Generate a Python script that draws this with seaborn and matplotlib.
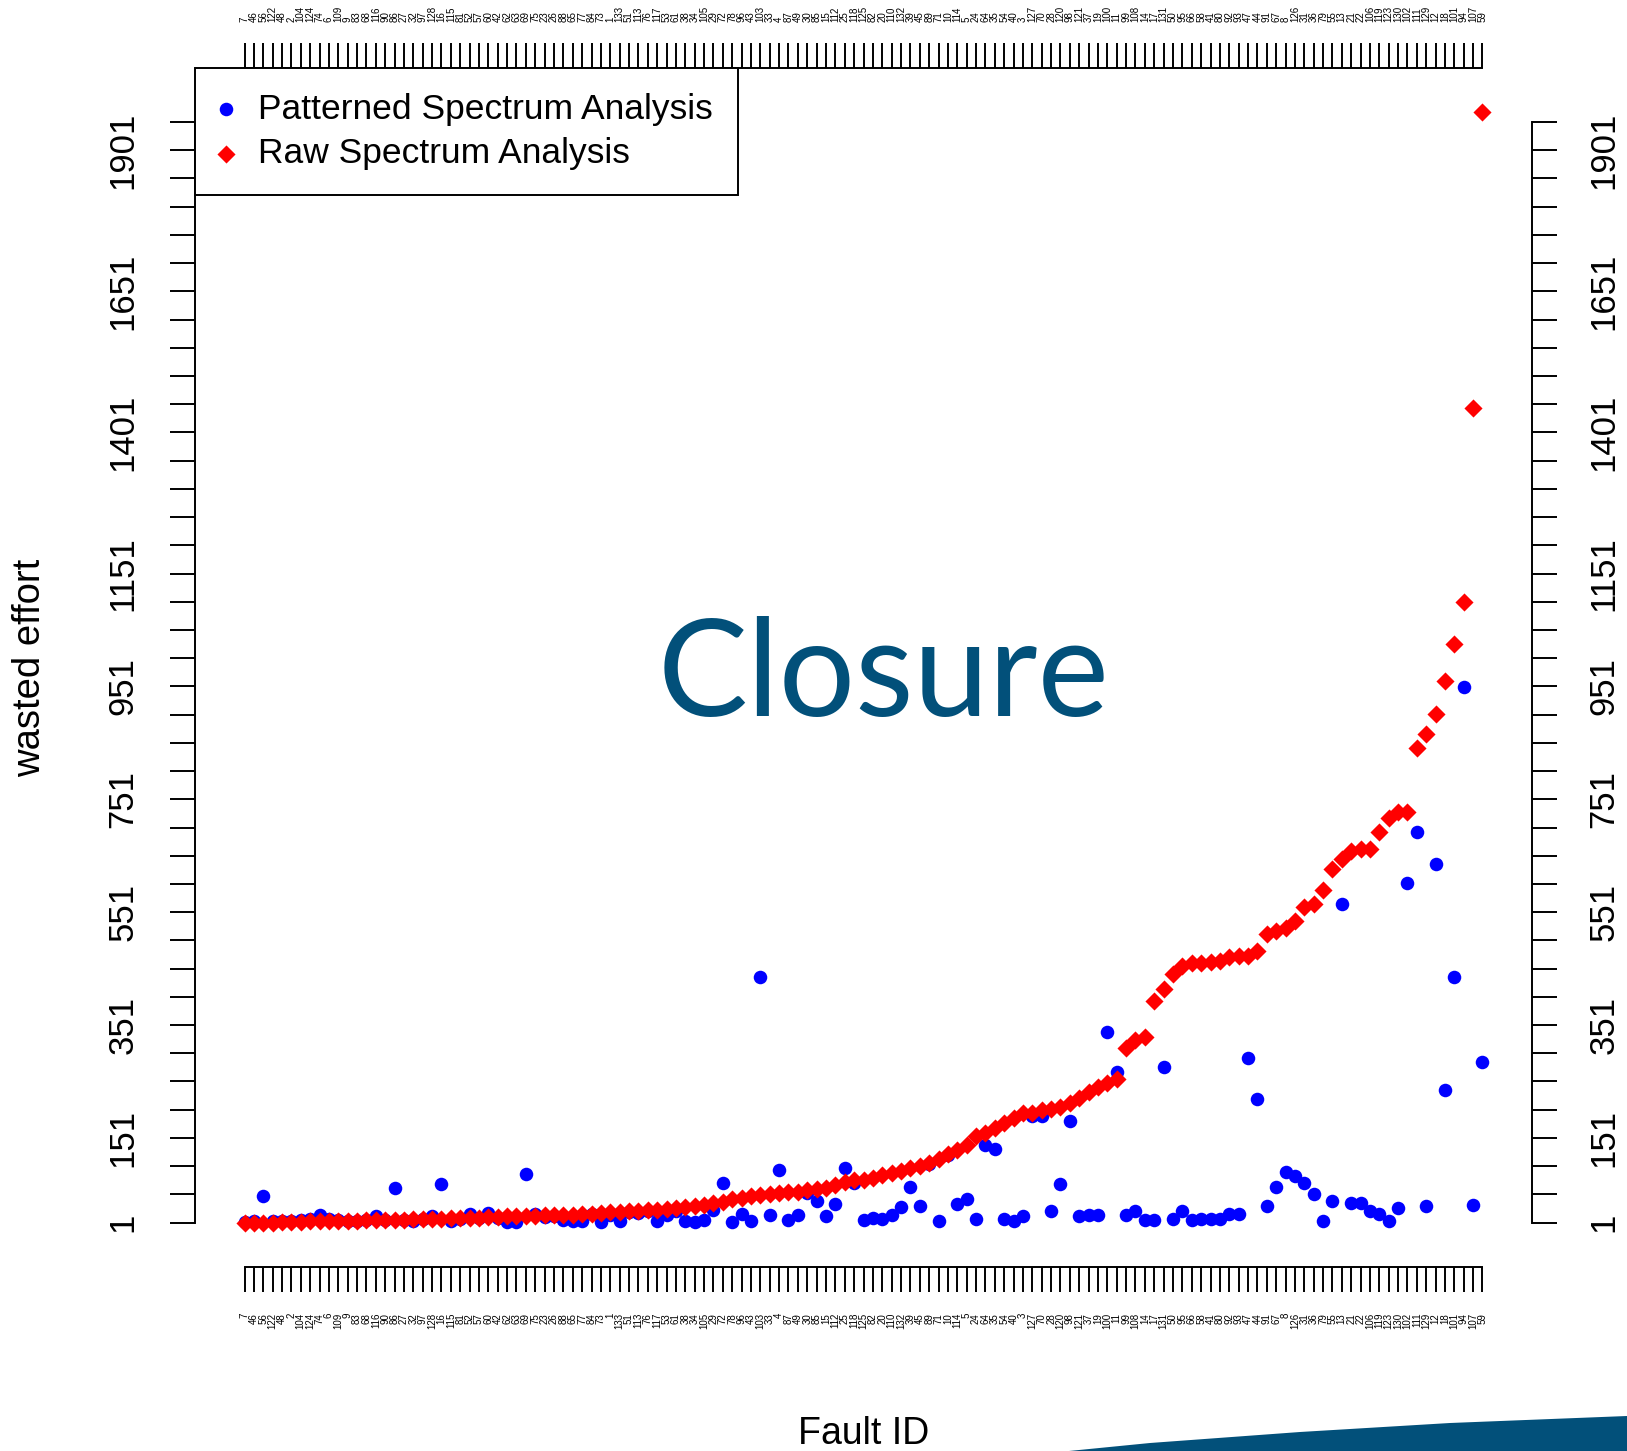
"""
Wasted effort per fault, patterned vs raw spectrum analysis (sorted by raw effort).
"""

import matplotlib
matplotlib.use("Agg")
import matplotlib.pyplot as plt
from matplotlib.patches import Polygon
import numpy as np
import pandas as pd
import seaborn as sns

# Fault IDs in plotted order (sorted by raw spectrum effort)
fault_ids = [7, 46, 56, 122, 48, 2, 104, 124, 74, 6,
             109, 9, 83, 68, 116, 90, 86, 27, 32, 97,
             128, 16, 115, 81, 52, 57, 60, 42, 62, 63,
             69, 75, 23, 26, 88, 65, 77, 84, 73, 1,
             133, 51, 113, 76, 117, 53, 61, 38, 34, 105,
             29, 72, 78, 96, 43, 103, 33, 4, 87, 49,
             30, 85, 15, 112, 25, 118, 125, 82, 20, 110,
             132, 39, 45, 89, 71, 10, 114, 5, 24, 64,
             35, 54, 40, 3, 127, 70, 28, 120, 98, 121,
             37, 19, 100, 11, 99, 108, 14, 17, 131, 50,
             95, 66, 58, 41, 80, 92, 93, 47, 44, 91,
             67, 8, 126, 31, 36, 79, 55, 13, 21, 22,
             106, 119, 123, 130, 102, 111, 129, 12, 18, 101,
             94, 107, 59]

raw_effort = [1, 1, 1, 1, 2, 2, 2, 3, 3, 3,
              4, 4, 4, 5, 5, 5, 6, 6, 7, 7,
              8, 8, 9, 9, 10, 10, 11, 11, 12, 12,
              13, 13, 14, 14, 15, 15, 16, 17, 18, 19,
              20, 21, 22, 23, 24, 25, 27, 29, 31, 33,
              35, 38, 42, 45, 48, 50, 52, 53, 55, 56,
              58, 60, 62, 67, 73, 76, 76, 80, 86, 89,
              93, 97, 102, 106, 113, 122, 130, 139, 154, 159,
              168, 178, 187, 196, 196, 200, 203, 205, 213, 222,
              233, 242, 249, 255, 310, 325, 330, 393, 415, 442,
              455, 461, 461, 463, 465, 472, 474, 474, 483, 512,
              518, 523, 536, 560, 566, 591, 628, 645, 660, 663,
              663, 693, 718, 729, 729, 842, 866, 902, 961, 1027,
              1101, 1445, 1968]

patterned_effort = [2, 3, 49, 3, 4, 3, 5, 7, 15, 8,
                    6, 4, 3, 5, 13, 6, 63, 5, 4, 7,
                    12, 69, 4, 8, 16, 10, 18, 9, 2, 2,
                    87, 16, 11, 12, 6, 3, 3, 16, 2, 14,
                    3, 20, 18, 22, 4, 15, 22, 3, 2, 6,
                    24, 71, 2, 16, 3, 437, 14, 95, 5, 14,
                    53, 40, 12, 34, 98, 71, 5, 10, 8, 14,
                    29, 64, 30, 104, 3, 121, 34, 43, 8, 139,
                    132, 8, 3, 12, 189, 189, 21, 69, 181, 12,
                    14, 14, 338, 268, 14, 21, 5, 5, 277, 8,
                    21, 5, 7, 7, 8, 16, 16, 293, 220, 30,
                    64, 91, 84, 72, 51, 3, 40, 566, 36, 36,
                    22, 17, 3, 26, 603, 693, 31, 637, 236, 437,
                    950, 33, 286]

y_ticks = list(range(1, 1952, 50))
y_labels_shown = [1, 151, 351, 551, 751, 951, 1151, 1401, 1651, 1901]

sns.set_theme(style="white")
plt.rcParams['font.family'] = ['Liberation Sans', 'DejaVu Sans']
plt.rcParams['text.color'] = 'black'
plt.rcParams['axes.labelcolor'] = 'black'
plt.rcParams['xtick.color'] = 'black'
plt.rcParams['ytick.color'] = 'black'

W, H = 1627, 1451
fig = plt.figure(figsize=(W / 100, H / 100), dpi=100)
ax = fig.add_axes([195 / W, 1 - 1267 / H, (1532 - 195) / W, (1267 - 68) / H])

df = pd.DataFrame({
    "pos": np.arange(1, len(fault_ids) + 1),
    "fault": fault_ids,
    "patterned": patterned_effort,
    "raw": raw_effort,
})

sns.scatterplot(data=df, x="pos", y="patterned", color="#0000ff", marker="o",
                s=95, linewidth=0, ax=ax, label="Patterned Spectrum Analysis", zorder=3)
sns.scatterplot(data=df, x="pos", y="raw", color="#ff0000", marker="D",
                s=85, linewidth=0, ax=ax, label="Raw Spectrum Analysis", zorder=4)

# R-style 4% padding around the data
n = len(fault_ids)
ax.set_xlim(1 - 0.04 * (n - 1), n + 0.04 * (n - 1))
lo = min(min(raw_effort), min(patterned_effort))
hi = max(max(raw_effort), max(patterned_effort))
ax.set_ylim(lo - 0.04 * (hi - lo), hi + 0.04 * (hi - lo))

ax.set_xticks(df["pos"])
ax.set_xticklabels([str(f) for f in fault_ids])
ax.set_yticks(y_ticks)
ax.set_yticklabels([str(v) if v in y_labels_shown else "" for v in y_ticks])

ax.tick_params(axis="x", bottom=True, top=True, labelbottom=True, labeltop=True,
               direction="out", length=18, width=1.4, color="black",
               labelsize=7, labelrotation=90, pad=15)
ax.tick_params(axis="y", left=True, right=True, labelleft=True, labelright=True,
               direction="out", length=18, width=1.4, color="black",
               labelsize=25, labelrotation=90, pad=22)
for t in ax.xaxis.get_major_ticks():
    t.label1.set_va("top")
    t.label2.set_va("bottom")
for t in ax.yaxis.get_major_ticks():
    t.label1.set_va("center")
    t.label2.set_va("center")

for side in ["left", "right"]:
    ax.spines[side].set_bounds(y_ticks[0], y_ticks[-1])
for side in ["top", "bottom"]:
    ax.spines[side].set_bounds(1, n)
for sp in ax.spines.values():
    sp.set_color("black")
    sp.set_linewidth(1.4)

ax.set_xlabel("Fault ID", fontsize=27)
ax.set_ylabel("wasted effort", fontsize=27.5)
ax.xaxis.set_label_coords(0.5, -0.124)
ax.yaxis.set_label_coords(-0.110, 0.5)

leg = ax.legend(loc="upper left", bbox_to_anchor=(0, 1), borderaxespad=0,
                fontsize=25.5, frameon=True, fancybox=False, framealpha=1,
                edgecolor="black", borderpad=0.7, handlelength=0.35,
                handletextpad=0.73, labelspacing=0.32)
leg.get_frame().set_linewidth(1.4)

# slide overlay: title word and the corner swoosh
fig.text(884 / W, 1 - 716 / H, "Closure", fontsize=97, family="Lato",
         color="#02507a", ha="center", va="baseline")
swoosh = [(1069, 1451), (1150, 1443), (1300, 1432), (1450, 1423), (1627, 1416), (1627, 1451)]
fig.patches.append(Polygon([(x / W, 1 - y / H) for x, y in swoosh], closed=True,
                           transform=fig.transFigure, facecolor="#02507a",
                           edgecolor="none"))

fig.savefig("out.png", dpi=100)
